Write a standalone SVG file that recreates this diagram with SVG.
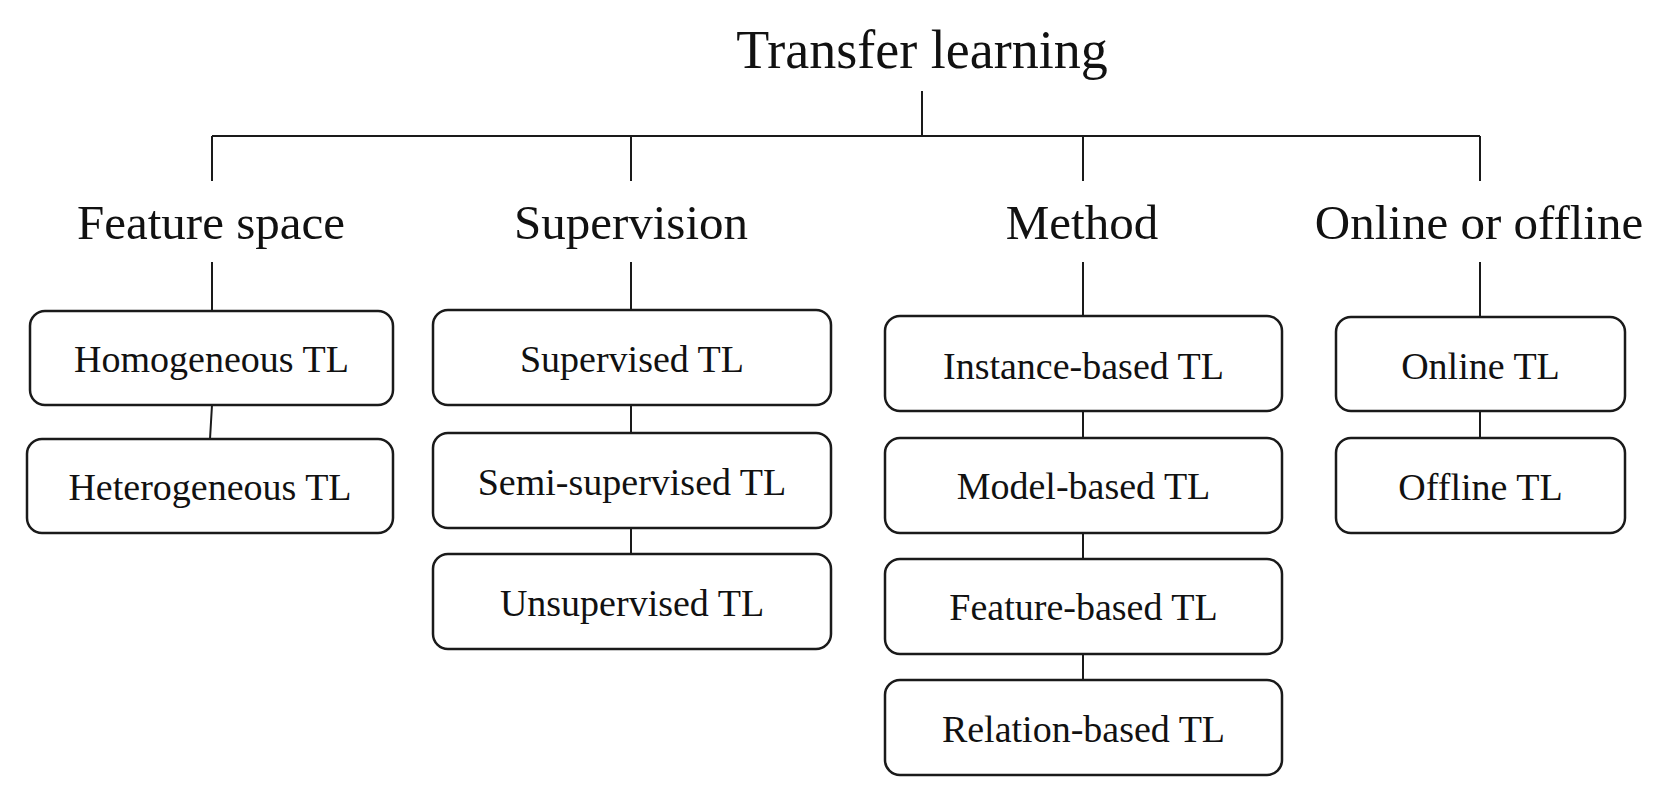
<svg xmlns="http://www.w3.org/2000/svg" width="1669" height="796" viewBox="0 0 1669 796">
<style>
.bg{fill:#fff}
.ln{stroke:#1a1a1a;stroke-width:2;fill:none}
.box{fill:#fff;stroke:#1a1a1a;stroke-width:2.5}
.t{font-family:"Liberation Serif","Times New Roman",serif;fill:#111;text-anchor:middle}
.root{font-size:54px}
.cat{font-size:49px}
.lbl{font-size:38px}
</style>
<rect class="bg" x="0" y="0" width="1669" height="796"/>
<g id="connectors">
<path class="ln" d="M922 91V136M212 136H1480M212 136V181M631 136V181M1083 136V181M1480 136V181"/>
<path class="ln" d="M212 262V311M631 262V310M1083 262V316M1480 262V317"/>
<path class="ln" d="M212 405L210 439M631 405V433M631 528V554M1083 411V438M1083 533V559M1083 654V680M1480 411V438"/>
</g>
<g id="root"><text class="t root" x="922" y="68">Transfer learning</text></g>
<g id="cat-feature"><text class="t cat" x="211" y="239">Feature space</text></g>
<g id="cat-supervision"><text class="t cat" x="631" y="239">Supervision</text></g>
<g id="cat-method"><text class="t cat" x="1082" y="239">Method</text></g>
<g id="cat-online"><text class="t cat" x="1479" y="239">Online or offline</text></g>
<g id="homogeneous"><rect class="box" x="30" y="311" width="363" height="94" rx="15"/><text class="t lbl" x="211.5" y="372">Homogeneous TL</text></g>
<g id="heterogeneous"><rect class="box" x="27" y="439" width="366" height="94" rx="15"/><text class="t lbl" x="210" y="500">Heterogeneous TL</text></g>
<g id="supervised"><rect class="box" x="433" y="310" width="398" height="95" rx="15"/><text class="t lbl" x="632" y="372">Supervised TL</text></g>
<g id="semi"><rect class="box" x="433" y="433" width="398" height="95" rx="15"/><text class="t lbl" x="632" y="495">Semi-supervised TL</text></g>
<g id="unsupervised"><rect class="box" x="433" y="554" width="398" height="95" rx="15"/><text class="t lbl" x="632" y="616">Unsupervised TL</text></g>
<g id="instance"><rect class="box" x="885" y="316" width="397" height="95" rx="15"/><text class="t lbl" x="1083.5" y="379">Instance-based TL</text></g>
<g id="model"><rect class="box" x="885" y="438" width="397" height="95" rx="15"/><text class="t lbl" x="1083.5" y="499">Model-based TL</text></g>
<g id="feature"><rect class="box" x="885" y="559" width="397" height="95" rx="15"/><text class="t lbl" x="1083.5" y="620">Feature-based TL</text></g>
<g id="relation"><rect class="box" x="885" y="680" width="397" height="95" rx="15"/><text class="t lbl" x="1083.5" y="742">Relation-based TL</text></g>
<g id="online"><rect class="box" x="1336" y="317" width="289" height="94" rx="15"/><text class="t lbl" x="1480.5" y="379">Online TL</text></g>
<g id="offline"><rect class="box" x="1336" y="438" width="289" height="95" rx="15"/><text class="t lbl" x="1480.5" y="500">Offline TL</text></g>
</svg>
